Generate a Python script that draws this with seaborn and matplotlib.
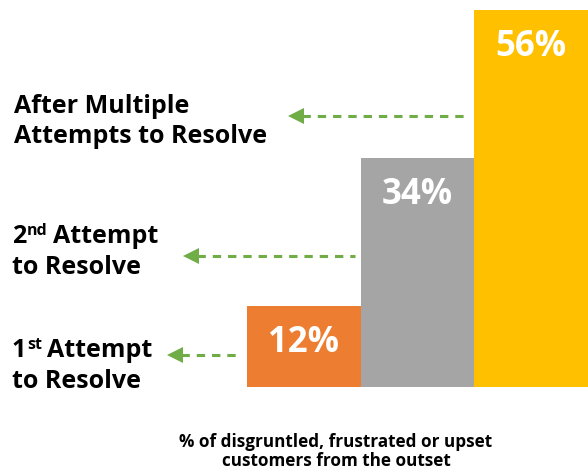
import matplotlib
matplotlib.use("Agg")
import matplotlib.pyplot as plt
import seaborn as sns
import pandas as pd
from matplotlib.lines import Line2D
from matplotlib.patches import Polygon

# ---- data ----
categories = ["1st Attempt to Resolve", "2nd Attempt to Resolve", "After Multiple Attempts to Resolve"]
values = [12, 34, 56]
value_labels = ["12%", "34%", "56%"]
colors = ["#ED7D31", "#A5A5A5", "#FFC000"]
xlabel_lines = ["% of disgruntled, frustrated or upset", "customers from the outset"]

sns.set_theme(style="white")
plt.rcParams['font.family'] = ['Open Sans', 'DejaVu Sans']
plt.rcParams['lines.scale_dashes'] = False

W, H = 588, 474
GREEN = "#70AD47"
fig = plt.figure(figsize=(W / 100, H / 100), dpi=100)


def px(x, y):
    return (x / W, 1 - y / H)


ax = fig.add_axes([247 / W, 1 - 387 / H, (588 - 247) / W, (387 - 10) / H])
df = pd.DataFrame({"cat": categories, "val": values})
sns.barplot(data=df, x="cat", y="val", hue="cat", palette=colors, width=1.0,
            ax=ax, legend=False, saturation=1, edgecolor="none", linewidth=0)
ax.set_xlim(-0.5, 2.5)
ax.set_ylim(0, max(values))
ax.axis('off')

for i, (v, l) in enumerate(zip(values, value_labels)):
    ax.annotate(l, (i, v), xytext=(0, -37 * 0.72), textcoords="offset points",
                ha="center", va="center", color="white", fontsize=25,
                fontweight="bold")

# ---- arrows (tip x, y, line end x) ----
arrows = [(167, 355, 241), (183, 256, 355), (288, 116, 470)]
for xt, y, xe in arrows:
    fig.add_artist(Line2D([(xt + 14) / W, xe / W], [1 - y / H, 1 - y / H],
                          transform=fig.transFigure, color=GREEN, lw=2.2,
                          linestyle=(0, (6, 5))))
    fig.add_artist(Polygon([px(xt, y), px(xt + 16, y - 8), px(xt + 16, y + 8)],
                           closed=True, transform=fig.transFigure,
                           facecolor=GREEN, edgecolor="none"))

# ---- left labels ----
LFS = 18
kw = dict(fontsize=LFS, fontweight="bold", color="black", va="baseline", ha="left")
fig.text(*px(14, 113), "After Multiple", **kw)
fig.text(*px(14, 143), "Attempts to Resolve", **kw)

renderer = fig.canvas.get_renderer()


def sup_line(x, y, base, sup, rest):
    t1 = fig.text(*px(x, y), base, **kw)
    bb = t1.get_window_extent(renderer)
    t2 = fig.text(bb.x1 / W + 1 / W, 1 - (y - 8) / H, sup, fontsize=11.5,
                  fontweight="bold", color="black", va="baseline", ha="left")
    bb2 = t2.get_window_extent(renderer)
    fig.text(bb2.x1 / W + 5 / W, 1 - y / H, rest, **kw)


sup_line(12, 243, "2", "nd", "Attempt")
fig.text(*px(12, 274), "to Resolve", **kw)
sup_line(12, 357, "1", "st", "Attempt")
fig.text(*px(12, 388), "to Resolve", **kw)

# ---- bottom caption ----
fig.text(*px(336, 447), xlabel_lines[0], fontsize=12.3, fontweight="bold",
         ha="center", va="baseline", color="black")
fig.text(*px(336, 466), xlabel_lines[1], fontsize=12.3, fontweight="bold",
         ha="center", va="baseline", color="black")

fig.savefig("out.png", dpi=100, facecolor="white")
